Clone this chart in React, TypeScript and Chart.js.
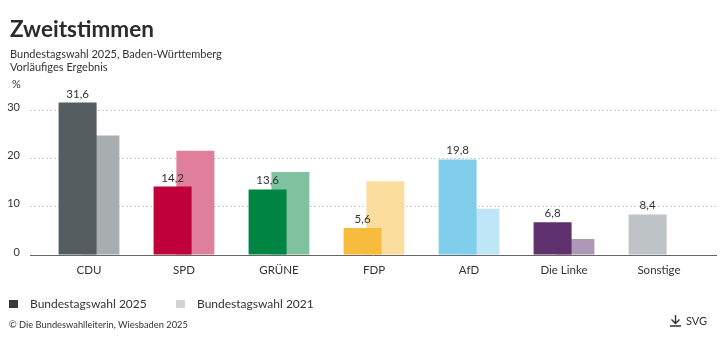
import React, { useEffect, useRef } from 'react';
import { Chart, registerables } from 'chart.js';

Chart.register(...registerables);

const categories = ['CDU', 'SPD', 'GRÜNE', 'FDP', 'AfD', 'Die Linke', 'Sonstige'];
const values2025 = [31.6, 14.2, 13.6, 5.6, 19.8, 6.8, 8.4];
const values2021: (number | null)[] = [24.8, 21.6, 17.2, 15.3, 9.6, 3.3, null];
const colors2025 = ['#555d60', '#c0003a', '#008542', '#f7bb3d', '#80cdec', '#5f316e', '#bec3c6'];
const colors2021 = ['#a9adaf', '#df7f9c', '#80c2a0', '#fbdd9e', '#bfe6f6', '#af97b8', '#dee1e2'];
const yTicks = [0, 10, 20, 30];
const legendLabels = ['Bundestagswahl 2025', 'Bundestagswahl 2021'];
const legendColors = ['#3a3a3a', '#d3d3d3'];

const FONT = 'Lato, "Noto Sans", sans-serif';
const TEXT = '#333333';

const fmt = (v: number) => String(v).replace('.', ',');

const valueLabels = {
  id: 'valueLabels',
  afterDatasetsDraw(chart: any) {
    const meta = chart.getDatasetMeta(0);
    const ctx = chart.ctx;
    ctx.save();
    ctx.font = '11.5px ' + FONT;
    ctx.fillStyle = TEXT;
    ctx.textAlign = 'center';
    ctx.textBaseline = 'alphabetic';
    meta.data.forEach((bar: any, i: number) => {
      ctx.fillText(fmt(values2025[i]), bar.x, bar.y - 5);
    });
    ctx.restore();
  },
};

export default function App() {
  const ref = useRef<HTMLCanvasElement | null>(null);

  useEffect(() => {
    if (!ref.current) return;
    const chart = new Chart(ref.current, {
      type: 'bar',
      data: {
        datasets: [
          {
            label: legendLabels[0],
            data: values2025.map((v, i) => ({ x: i, y: v })),
            backgroundColor: colors2025,
            categoryPercentage: 0.48,
            barPercentage: 1.667,
          },
          {
            label: legendLabels[1],
            data: values2021.map((v, i) => ({ x: i, y: v })),
            backgroundColor: colors2021,
            categoryPercentage: 0.48,
            barPercentage: 1.667,
          },
        ],
      } as any,
      options: {
        responsive: false,
        devicePixelRatio: 1,
        animation: false,
        layout: { padding: { top: 91, right: 4, bottom: 0, left: 0 } },
        plugins: {
          legend: { display: false },
          tooltip: { enabled: false },
          title: { display: false },
        },
        scales: {
          x: {
            type: 'linear',
            offset: false,
            min: -0.621,
            max: 6.6,
            grid: { display: false, drawTicks: false },
            border: { display: true, color: '#666666', width: 1 },
            ticks: {
              stepSize: 1,
              includeBounds: false,
              autoSkip: false,
              maxRotation: 0,
              padding: 8,
              color: TEXT,
              font: { family: FONT, size: 11.5 },
              callback: (v: any) => (Number.isInteger(v) && categories[v] ? categories[v] : ''),
            },
            afterFit: (scale: any) => {
              scale.height = 98;
            },
          },
          y: {
            min: 0,
            max: 34,
            grid: { color: '#d0d0d0', drawTicks: false, lineWidth: 1 },
            border: { display: false, dash: [2, 2] },
            ticks: {
              stepSize: 10,
              includeBounds: false,
              padding: 10,
              labelOffset: -3,
              color: TEXT,
              font: { family: FONT, size: 11 },
              callback: (v: any) => (yTicks.includes(v) ? String(v) : ''),
            },
            afterFit: (scale: any) => {
              scale.width = 30;
            },
          },
        },
      } as any,
      plugins: [valueLabels],
    });
    return () => chart.destroy();
  }, []);

  const abs = (left: number, top: number, extra: any = {}) => ({
    position: 'absolute' as const,
    left,
    top,
    whiteSpace: 'nowrap' as const,
    color: TEXT,
    fontFamily: FONT,
    margin: 0,
    ...extra,
  });

  return (
    <div style={{ position: 'fixed', left: 0, top: 0, width: 720, height: 353, background: '#fff', overflow: 'hidden' }}>
      <canvas ref={ref} width={720} height={353} style={{ position: 'absolute', left: 0, top: 0, width: 720, height: 353 }} />
      <div style={abs(10, 18, { fontSize: 22.5, fontWeight: 700, lineHeight: '22px', color: '#2b2b2b' })}>Zweitstimmen</div>
      <div style={abs(10, 47, { fontSize: 11, lineHeight: '13px' })}>
        Bundestagswahl 2025, Baden-Württemberg
        <br />
        Vorläufiges Ergebnis
      </div>
      <div style={abs(12, 78, { fontSize: 11, lineHeight: '12px' })}>%</div>
      <div style={abs(9, 300, { width: 9, height: 8, background: legendColors[0] })} />
      <div style={abs(30, 297, { fontSize: 12, lineHeight: '14px' })}>{legendLabels[0]}</div>
      <div style={abs(176, 300, { width: 9, height: 8, background: legendColors[1] })} />
      <div style={abs(197, 297, { fontSize: 12, lineHeight: '14px' })}>{legendLabels[1]}</div>
      <div style={abs(9, 318.5, { fontSize: 9.3, lineHeight: '12px' })}>© Die Bundeswahlleiterin, Wiesbaden 2025</div>
      <svg style={{ position: 'absolute', left: 669, top: 315 }} width={13} height={12} viewBox="0 0 13 12">
        <path d="M6.5 0 V8 M2.5 4.5 L6.5 8.5 L10.5 4.5 M1 11 H12" stroke="#333" strokeWidth={1.4} fill="none" />
      </svg>
      <div style={abs(686, 315, { fontSize: 11, lineHeight: '12px' })}>SVG</div>
    </div>
  );
}
